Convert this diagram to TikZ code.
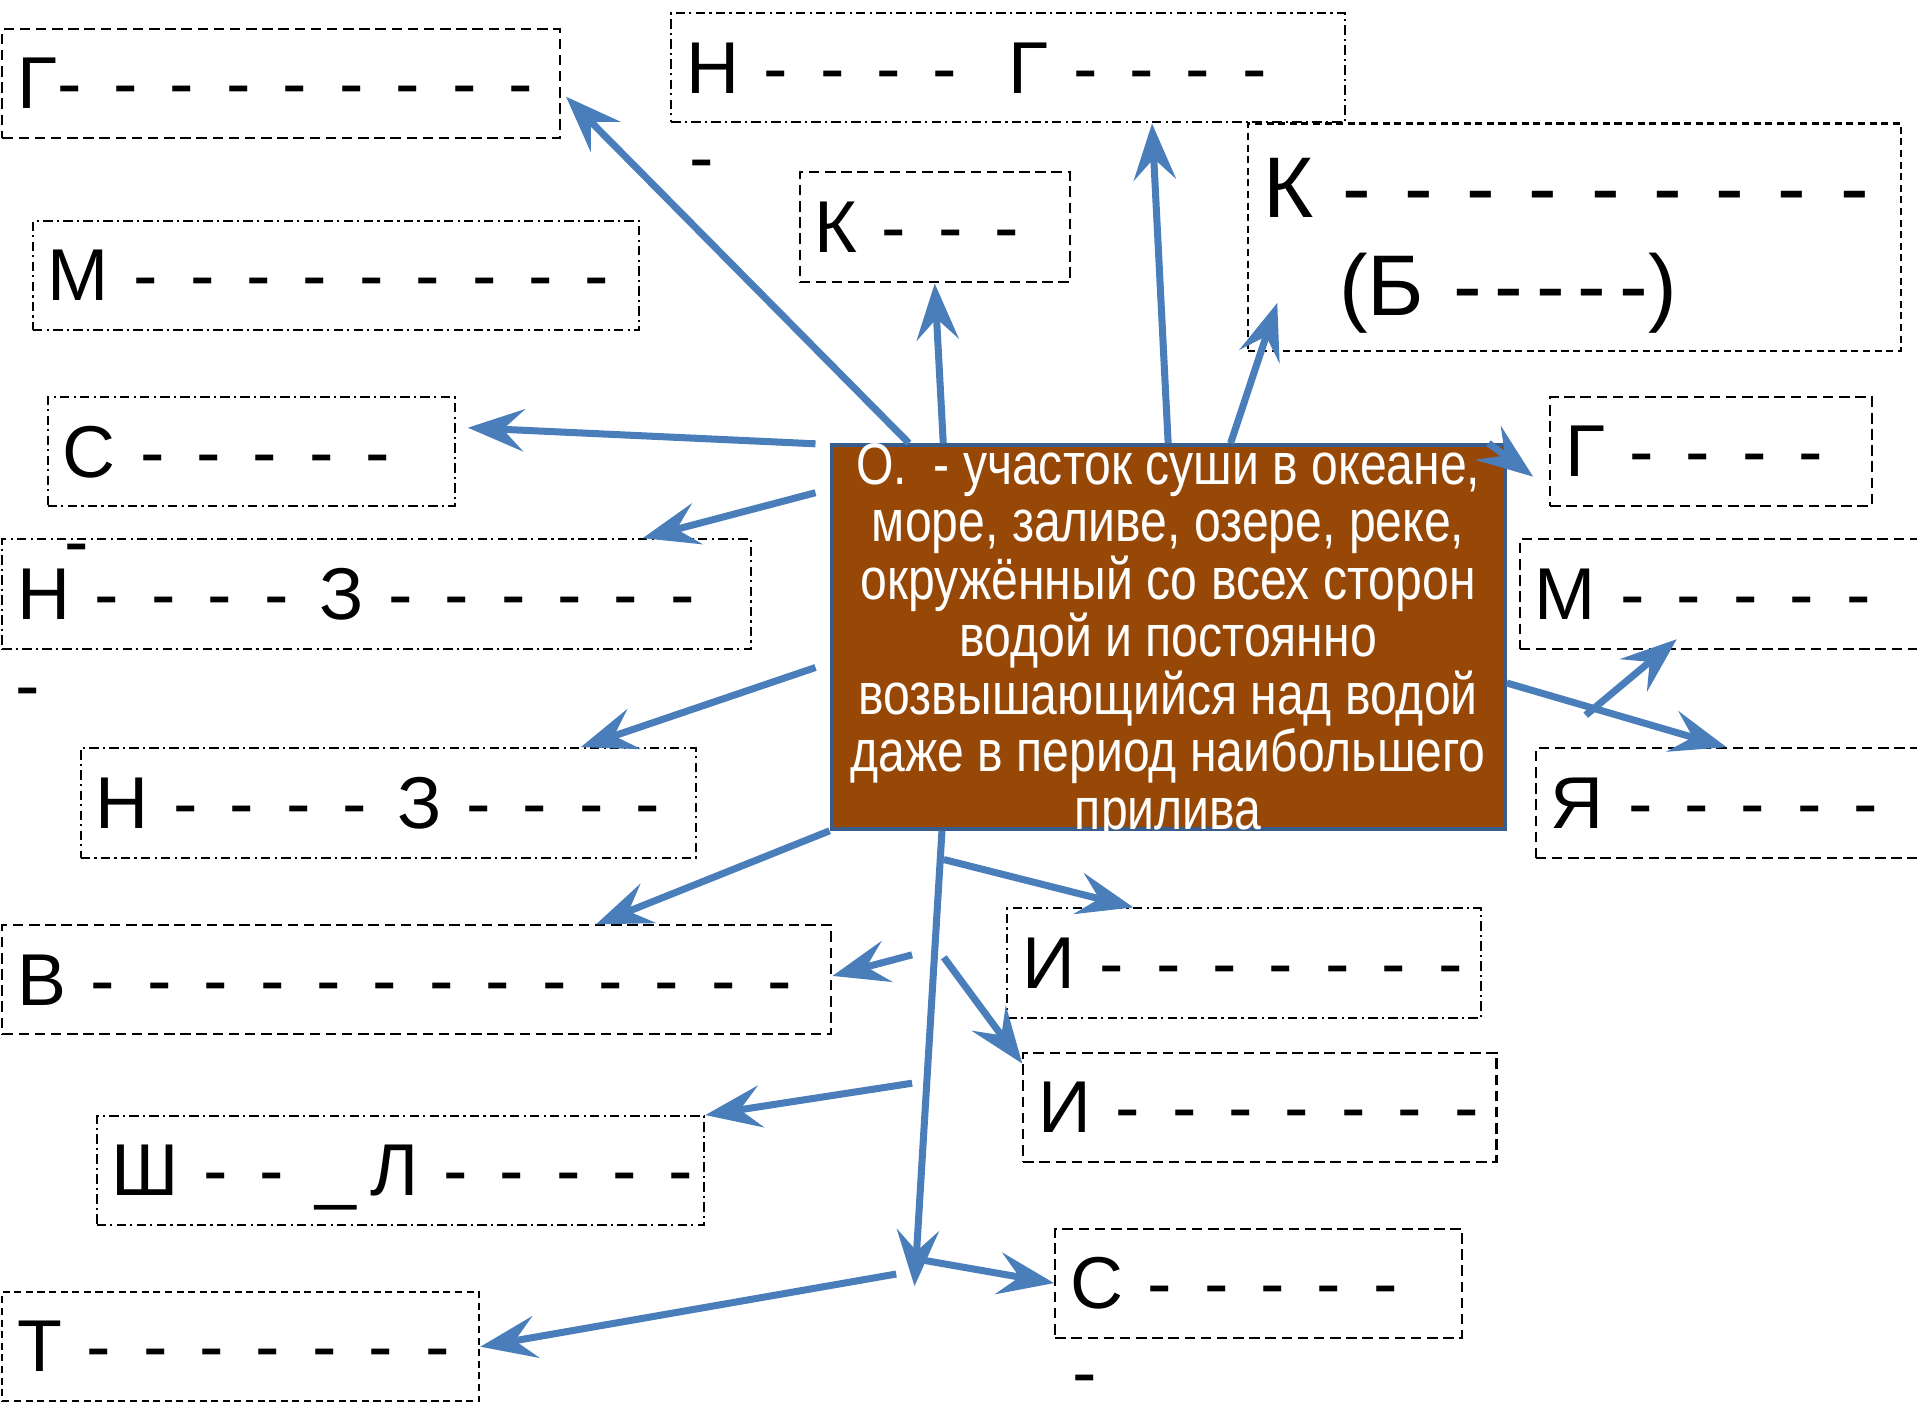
\documentclass[tikz,border=0pt]{standalone}
\usepackage{fontspec}
\setmainfont{Liberation Sans}
\newfontfamily\narrowfont[FakeStretch=0.82]{Liberation Sans}
\usetikzlibrary{arrows.meta,positioning}

\definecolor{arrowblue}{HTML}{4A7EBB}
\definecolor{islandbrown}{HTML}{984806}
\definecolor{islandedge}{HTML}{385D8A}

% row of blanks: #2 dashes, #1 gap between them
\newcommand\blanks[2][.435em]{-\foreach\k in {2,...,#2}{\kern#1-}}

\begin{document}
\begin{tikzpicture}[
  blank/.style={
    rectangle, draw=black, line width=0.6pt, inner xsep=0.15cm, inner ysep=0pt,
    minimum height=1.09cm, text width=#1, align=left, text depth=0pt,
    font={\fontsize{20.9}{25}\selectfont\exhyphenpenalty10000\relax}
  },
  dashedrim/.style={dash pattern=on 3pt off 1.6pt},
  finerim/.style={dash pattern=on 2pt off 1.3pt},
  dotrim/.style={dash pattern=on 2.7pt off 1.2pt on 0.6pt off 1.2pt},
  island/.style={
    rectangle, fill=islandbrown, draw=islandedge, line width=1.05pt,
    minimum width=6.736cm, minimum height=3.839cm, inner sep=0.018cm,
    text width=6.7cm, align=flush center, text=white,
    text height=0.3cm, text depth=3.35cm,
    font=\narrowfont\fontsize{16.7}{16.35}\selectfont
  },
  stray/.style={anchor=base, inner sep=0pt, font=\fontsize{20.9}{25}\selectfont},
  pointer/.style={-{Stealth[length=16pt, width=12pt, inset=6pt]},
    line width=2pt, draw=arrowblue}
]
\useasboundingbox (0,0) rectangle (19.17,-14.05);

% === Definition box ===
\node[island] (isl) at (11.682,-6.370)
  {О.\ \ - участок суши в океане,\\
   море, заливе, озере, реке,\\
   окружённый со всех сторон\\
   водой и постоянно\\
   возвышающийся над водой\\
   даже в период наибольшего\\
   прилива};

% === Left column ===
\node[blank=5.276cm, dashedrim] (gtl) at (2.812,-0.837) {Г\blanks{9}};
\node[blank=5.764cm, dotrim] (mtl) at (3.362,-2.757) {М~\blanks{9}};
\node[blank=3.771cm, dotrim] (sl) at (2.512,-4.517) {С~\blanks{5}};
\node[blank=7.183cm, dotrim, minimum height=1.10cm] (nz) at (3.765,-5.942)
  {Н~\blanks{4}\kern.42em З~\blanks{6}};
\node[blank=5.850cm, dotrim, minimum height=1.10cm] (nz2) at (3.882,-8.032)
  {Н~\blanks{4}\kern.42em З~\blanks{4}};
\node[blank=7.990cm, dashedrim] (vb) at (4.169,-9.799) {В~\blanks{13}};
\node[blank=5.776cm, dotrim] (shl) at (4.004,-11.706)
  {Ш~\blanks{2}\kern.42em\_\kern.2em Л~\blanks{5}};
\node[blank=4.469cm, finerim] (tb) at (2.408,-13.467) {Т~\blanks{7}};

% === Top row ===
\node[blank=6.437cm, dotrim] (ng) at (10.080,-0.679)
  {Н~\blanks{4}\kern.7em Г~\blanks{4}};
\node[blank=2.402cm, dashedrim, minimum height=1.10cm] (ks) at (9.347,-2.274) {К~\blanks{3}};
\node[blank=6.228cm, finerim, minimum height=2.274cm, text depth=27.8pt,
  font={\fontsize{24.5}{27.8}\selectfont\exhyphenpenalty10000\relax}] (kb) at (15.747,-2.372)
  {К~\blanks[.39em]{9}\\\hspace*{0.76cm}(Б~\blanks[.15em]{5})};

% === Right column ===
\node[blank=2.915cm, dashedrim] (gr) at (17.110,-4.517) {Г~\blanks{4}};
\node[blank=4.063cm, dashedrim, minimum height=1.10cm] (mr) at (17.379,-5.942) {М~\blanks{5}};
\node[blank=3.906cm, dashedrim, minimum height=1.10cm] (ya) at (17.459,-8.032) {Я~\blanks{5}};
\node[blank=4.432cm, dotrim, minimum height=1.10cm] (iu) at (12.440,-9.634) {И~\blanks{7}};
\node[blank=4.432cm, dashedrim] (il) at (12.599,-11.071) {И~\blanks{7}};
\node[blank=3.771cm, dashedrim] (slo) at (12.587,-12.831) {С~\blanks{5}};

% === Loose dashes ===
\node[stray] (d1) at (7.018,-1.826) {-};
\node[stray] (d2) at (0.770,-5.665) {-};
\node[stray] (d3) at (0.281,-7.108) {-};
\node[stray] (d4) at (10.845,-13.979) {-};

% === Free arrow ends ===
\coordinate (lsplit1) at (8.155,-4.438);
\coordinate (lsplit2) at (8.155,-4.927);
\coordinate (lsplit3) at (8.155,-6.675);
\coordinate (vstart) at (9.121,-9.548);
\coordinate (shstart) at (9.121,-10.832);
\coordinate (tstart) at (8.962,-12.740);
\coordinate (fork) at (9.145,-12.862);
\coordinate (iustart) at (9.438,-8.595);
\coordinate (ilstart) at (9.438,-9.573);
\coordinate (slostart) at (9.182,-12.593);
\coordinate (mrstart) at (15.857,-7.152);

% === Arrows up ===
\draw[pointer] ([xshift=0.794cm]isl.north west) -- ([shift={(0.05,-0.13)}]gtl.east);
\draw[pointer] ([xshift=1.137cm]isl.north west) -- (ks.south);
\draw[pointer] ([xshift=3.386cm]isl.north west) -- ([xshift=1.44cm]ng.south);
\draw[pointer] ([xshift=4.010cm]isl.north west) -- ([shift={(0.3,0.49)}]kb.south west);

% === Arrows right ===
\draw[pointer] ([xshift=-0.183cm]isl.north east) -- ([shift={(-0.16,-0.25)}]gr.west);
\draw[pointer] ([yshift=-0.46cm]isl.east) -- ([xshift=1.92cm]ya.north west);
\draw[pointer] (mrstart) -- ([shift={(1.58,0.11)}]mr.south west);

% === Arrows left ===
\draw[pointer] (lsplit1) -- ([shift={(0.12,0.24)}]sl.east);
\draw[pointer] (lsplit2) -- ([xshift=-1.09cm]nz.north east);
\draw[pointer] (lsplit3) -- ([xshift=-1.16cm]nz2.north east);
\draw[pointer] (isl.south west) -- ([xshift=1.79cm]vb.north);
\draw[pointer] (vstart) -- ([yshift=0.04cm]vb.east);
\draw[pointer] (shstart) -- (shl.north east);
\draw[pointer] (tstart) -- (tb.east);

% === Arrows down ===
\draw[pointer] ([xshift=1.124cm]isl.south west) -- (fork);
\draw[pointer] (iustart) -- ([xshift=1.27cm]iu.north west);
\draw[pointer] (ilstart) -- ([yshift=-0.12cm]il.north west);
\draw[pointer] (slostart) -- (slo.west);

\end{tikzpicture}
\end{document}
